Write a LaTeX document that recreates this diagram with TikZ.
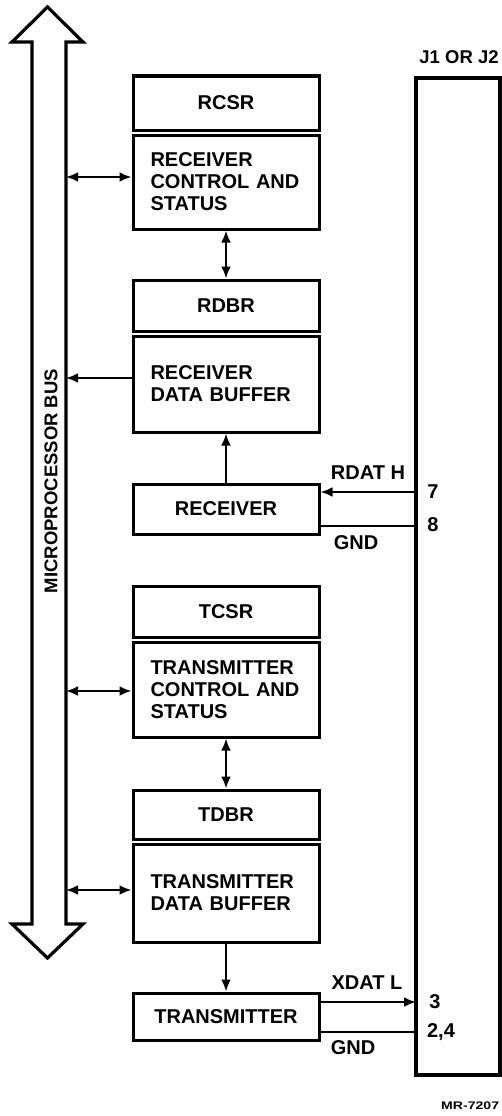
\documentclass[tikz,border=0pt]{standalone}
\usepackage{fontspec}
\setmainfont{Liberation Sans}
\usetikzlibrary{arrows.meta}
\begin{document}
\begin{tikzpicture}[x=1pt,y=-1pt,
  font=\bfseries\fontsize{20}{22}\selectfont,
  regbox/.style={draw,line width=3pt,inner sep=0pt,minimum width=186pt},
  bodytext/.style={regbox,text width=151pt,align=left},
  conn/.style={line width=2.6pt},
  tip/.style={-{Latex[length=12pt,width=10pt]}},
  tips/.style={{Latex[length=12pt,width=10pt]}-{Latex[length=12pt,width=10pt]}},
  lbl/.style={inner sep=0pt}]
\useasboundingbox (0,0) rectangle (502,1116);

% microprocessor bus
\draw[line width=3.2pt,line join=miter]
  (32,42) -- (12,42) -- (47.5,7) -- (83,42) -- (66,42) -- (66,924) -- (83,924)
  -- (47.5,958) -- (12,924) -- (32,924) -- cycle;
\node[lbl,rotate=90,font=\bfseries\fontsize{18.5}{20}\selectfont] (bustext) at (51,481) {MICROPROCESSOR BUS};
\coordinate (busR) at (66,0);

% receiver side
\node[regbox,minimum height=54pt] (rcsrT) at (226,103) {RCSR};
\node[bodytext,minimum height=94pt] (rcsrL) at (226,182) {RECEIVER\\CONTROL AND\\STATUS};
\node[regbox,minimum height=51pt] (rdbrT) at (226,305.5) {RDBR};
\node[bodytext,minimum height=96pt] (rdbrL) at (226,384) {RECEIVER\\DATA BUFFER};
\node[regbox,minimum height=50pt] (recv) at (226,509) {RECEIVER};

% transmitter side
\node[regbox,minimum height=51pt] (tcsrT) at (226,611.5) {TCSR};
\node[bodytext,minimum height=95pt] (tcsrL) at (226,689.5) {TRANSMITTER\\CONTROL AND\\STATUS};
\node[regbox,minimum height=49pt] (tdbrT) at (226,814.5) {TDBR};
\node[bodytext,minimum height=98pt] (tdbrL) at (226,893) {TRANSMITTER\\DATA BUFFER};
\node[regbox,minimum height=47pt] (xmit) at (226,1016.5) {TRANSMITTER};

% connector panel
\node[draw,line width=3.2pt,inner sep=0pt,minimum width=84pt,minimum height=997pt] (panel) at (458,576.5) {};
\node[lbl,font=\bfseries\fontsize{18.5}{20}\selectfont] (jlabel) at (459,57) {J1 OR J2};

% bus connections
\coordinate (b1) at (66,177);
\coordinate (b2) at (66,378);
\coordinate (b3) at (66,691);
\coordinate (b4) at (66,890);
\draw[conn,tips] (b1) -- (b1 -| rcsrL.west);
\draw[conn,tip] (b2 -| rdbrL.west) -- (b2);
\draw[conn,tips] (b3) -- (b3 -| tcsrL.west);
\draw[conn,tips] (b4) -- (b4 -| tdbrL.west);

% vertical connections
\draw[conn,tips] (rcsrL.south) -- (rdbrT.north);
\draw[conn,tip] (recv.north) -- (rdbrL.south);
\draw[conn,tips] (tcsrL.south) -- (tdbrT.north);
\draw[conn,tip] (tdbrL.south) -- (xmit.north);

% receiver lines
\coordinate (p7) at (416,492);
\coordinate (p8) at (416,526);
\draw[conn,tip] (p7) -- (p7 -| recv.east);
\draw[conn] (p8) -- (p8 -| recv.east);
\node[lbl] (rdat) at (368,473) {RDAT H};
\node[lbl] (gnd1) at (356,543) {GND};
\node[lbl] (n7) at (433,492) {7};
\node[lbl] (n8) at (433,525) {8};

% transmitter lines
\coordinate (p3) at (416,1002);
\coordinate (p24) at (416,1032);
\draw[conn,tip] (p3 -| xmit.east) -- (p3);
\draw[conn] (p24) -- (p24 -| xmit.east);
\node[lbl] (xdat) at (367,983) {XDAT L};
\node[lbl] (gnd2) at (353,1048) {GND};
\node[lbl] (n3) at (435,1002) {3};
\node[lbl] (n24) at (441,1032) {2,4};

\node[lbl,anchor=west,font=\bfseries\fontsize{11}{12}\selectfont] (mr) at (441,1106) {\scalebox{1.28}[1]{MR-7207}};
\end{tikzpicture}
\end{document}
